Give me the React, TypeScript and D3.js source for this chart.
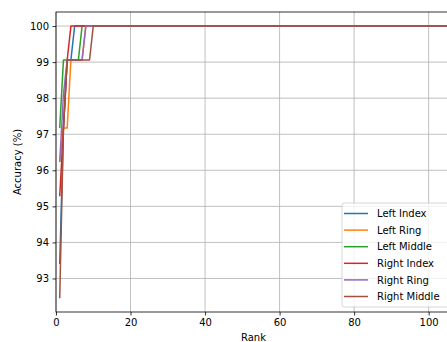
import * as d3 from "d3";
import { useEffect, useRef } from "react";

// accuracy (%) for rank 1, 2, 3 ... ; last value holds until the last rank
const RANK_MAX = 106;
const leftIndex = [93.4, 97.17, 99.06, 99.06, 100];
const leftRing = [96.23, 97.17, 97.17, 99.06, 99.06, 99.06, 99.06, 100];
const leftMiddle = [97.17, 99.06, 99.06, 99.06, 99.06, 99.06, 100];
const rightIndex = [95.28, 97.17, 99.06, 100];
const rightRing = [96.23, 98.11, 99.06, 99.06, 99.06, 99.06, 99.06, 100];
const rightMiddle = [92.45, 97.17, 99.06, 99.06, 99.06, 99.06, 99.06, 99.06, 99.06, 100];

const seriesNames = ["Left Index", "Left Ring", "Left Middle", "Right Index", "Right Ring", "Right Middle"];
const seriesValues = [leftIndex, leftRing, leftMiddle, rightIndex, rightRing, rightMiddle];
const colors = ["#1f77b4", "#ff7f0e", "#2ca02c", "#d62728", "#9467bd", "#a0523d"];

const xTicks = [0, 20, 40, 60, 80, 100];
const yTicks = [93, 94, 95, 96, 97, 98, 99, 100];

function App() {
    const ref = useRef(null);

    useEffect(() => {
        const svg = d3.select(ref.current);
        svg.selectAll("*").remove();

        const width = 447;
        const height = 342;
        const margin = { top: 12, left: 56 };
        const plotW = 395;
        const plotH = 300;
        const font = "DejaVu Sans, sans-serif";

        svg.attr("width", width).attr("height", height);

        const x = d3.scaleLinear().domain([0, RANK_MAX]).range([0, plotW]);
        const y = d3.scaleLinear().domain([92.07, 100.39]).range([plotH, 0]);

        const g = svg.append("g").attr("transform", `translate(${margin.left},${margin.top})`);

        // grid
        g.append("g")
            .selectAll("line")
            .data(xTicks)
            .enter()
            .append("line")
            .attr("x1", d => x(d))
            .attr("x2", d => x(d))
            .attr("y1", 0)
            .attr("y2", plotH)
            .attr("stroke", "#b0b0b0")
            .attr("stroke-width", 0.8);
        g.append("g")
            .selectAll("line")
            .data(yTicks)
            .enter()
            .append("line")
            .attr("x1", 0)
            .attr("x2", plotW)
            .attr("y1", d => y(d))
            .attr("y2", d => y(d))
            .attr("stroke", "#b0b0b0")
            .attr("stroke-width", 0.8);

        // lines
        const line = d3.line().x(d => x(d[0])).y(d => y(d[1]));
        seriesValues.forEach((vals, i) => {
            const pts = vals.map((v, j) => [j + 1, v]);
            pts.push([RANK_MAX, vals[vals.length - 1]]);
            g.append("path")
                .datum(pts)
                .attr("d", line)
                .attr("fill", "none")
                .attr("stroke", colors[i])
                .attr("stroke-width", 1.5)
                .attr("stroke-linejoin", "round");
        });

        // axes
        const xAxis = g.append("g")
            .attr("transform", `translate(0,${plotH})`)
            .call(d3.axisBottom(x).tickValues(xTicks).tickSize(3.5).tickPadding(3.5));
        const yAxis = g.append("g")
            .call(d3.axisLeft(y).tickValues(yTicks).tickSize(3.5).tickPadding(3.5));
        [xAxis, yAxis].forEach(a => {
            a.select(".domain").remove();
            a.selectAll("line").attr("stroke", "#000").attr("stroke-width", 0.8);
            a.selectAll("text").attr("fill", "#000").style("font-size", "10px").style("font-family", font);
        });

        // spines
        g.append("rect")
            .attr("x", 0)
            .attr("y", 0)
            .attr("width", plotW)
            .attr("height", plotH)
            .attr("fill", "none")
            .attr("stroke", "#000")
            .attr("stroke-width", 0.8);

        // labels
        svg.append("text")
            .attr("x", margin.left + plotW / 2)
            .attr("y", margin.top + plotH + 29)
            .attr("text-anchor", "middle")
            .style("font-size", "10px")
            .style("font-family", font)
            .text("Rank");
        svg.append("text")
            .attr("transform", "rotate(-90)")
            .attr("x", -(margin.top + plotH / 2))
            .attr("y", 21)
            .attr("text-anchor", "middle")
            .style("font-size", "10px")
            .style("font-family", font)
            .text("Accuracy (%)");

        // legend
        const leg = svg.append("g").attr("transform", "translate(342,203)");
        leg.append("rect")
            .attr("width", 112)
            .attr("height", 104)
            .attr("rx", 2.5)
            .attr("fill", "#fff")
            .attr("fill-opacity", 0.8)
            .attr("stroke", "#cccccc")
            .attr("stroke-width", 0.8);
        seriesNames.forEach((name, i) => {
            const yy = 10.5 + i * 16.6;
            leg.append("line")
                .attr("x1", 2)
                .attr("x2", 26)
                .attr("y1", yy)
                .attr("y2", yy)
                .attr("stroke", colors[i])
                .attr("stroke-width", 1.5);
            leg.append("text")
                .attr("x", 35)
                .attr("y", yy + 3.6)
                .style("font-size", "10px")
                .style("font-family", font)
                .text(name);
        });
    }, []);

    return (
        <div style={{ position: "absolute", left: 0, top: 0 }}>
            <svg ref={ref} style={{ display: "block" }} />
        </div>
    );
}

export default App;
